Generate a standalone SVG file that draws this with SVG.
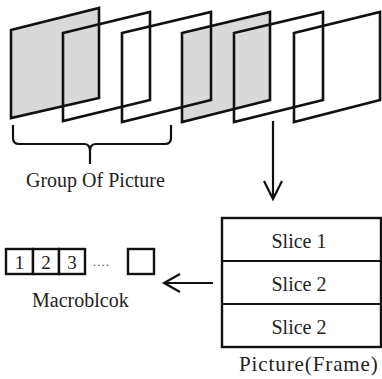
<svg xmlns="http://www.w3.org/2000/svg" width="382" height="379" viewBox="0 0 382 379">
<style>
.fr{fill:none;stroke:#111;stroke-width:2.6;stroke-linejoin:miter}
.gr{fill:#d9d9d9}
.ln{fill:none;stroke:#111;stroke-width:2.2}
.bx{fill:#fff;stroke:#111;stroke-width:2.4}
</style>
<rect width="382" height="379" fill="#fff"/>
<g id="frames">
<polygon class="gr" points="11,30 99,8 99,98 11,118"/>
<polygon class="gr" points="182,33 270,12 270,100 182,122"/>
<polygon class="fr" points="11,30 99,8 99,98 11,118"/>
<polygon class="fr" points="63,33 150,12 150,100 63,121"/>
<polygon class="fr" points="122,33 211,12 211,100 122,122"/>
<polygon class="fr" points="182,33 270,12 270,100 182,122"/>
<polygon class="fr" points="234,33 323,12 323,100 234,122"/>
<polygon class="fr" points="294,33 380,12 380,100 294,122"/>
</g>
<g id="gop">
<path class="ln" d="M13,125 V138 Q13,144 19,144 H84 Q90,144 90,151 V164 M90,151 Q90,144 96,144 H165 Q171,144 171,138 V125"/>
<text font-family="Liberation Serif" font-size="20" fill="#222" x="26" y="187">Group Of Picture</text>
</g>
<g id="connectors">
<path class="ln" d="M273,121 V199 M264,181 L273,199 L282,181"/>
<path class="ln" d="M213,283 H164 M180,274 L164,283 L180,292"/>
</g>
<g id="picture">
<rect class="bx" x="222" y="218" width="159" height="129"/>
<line class="ln" x1="222" y1="261" x2="381" y2="261"/>
<line class="ln" x1="222" y1="304" x2="381" y2="304"/>
<text font-family="Liberation Serif" font-size="20" fill="#222" text-anchor="middle" x="299" y="248">Slice 1</text>
<text font-family="Liberation Serif" font-size="20" fill="#222" text-anchor="middle" x="299" y="291">Slice 2</text>
<text font-family="Liberation Serif" font-size="20" fill="#222" text-anchor="middle" x="299" y="334">Slice 2</text>
<text font-family="Liberation Serif" font-size="21" fill="#222" letter-spacing="0.9" x="239" y="371">Picture(Frame)</text>
</g>
<g id="macroblock">
<rect class="bx" x="6" y="249" width="27" height="25"/>
<rect class="bx" x="33" y="249" width="26" height="25"/>
<rect class="bx" x="59" y="249" width="26" height="25"/>
<rect class="bx" x="128" y="249" width="26" height="25"/>
<text font-family="Liberation Serif" font-size="19" fill="#222" text-anchor="middle" x="19.5" y="269">1</text>
<text font-family="Liberation Serif" font-size="19" fill="#222" text-anchor="middle" x="46" y="269">2</text>
<text font-family="Liberation Serif" font-size="19" fill="#222" text-anchor="middle" x="72" y="269">3</text>
<text font-family="Liberation Serif" font-size="13" fill="#555" letter-spacing="1" x="93" y="266">....</text>
<text font-family="Liberation Serif" font-size="20" fill="#222" x="32" y="307">Macroblcok</text>
</g>
</svg>
